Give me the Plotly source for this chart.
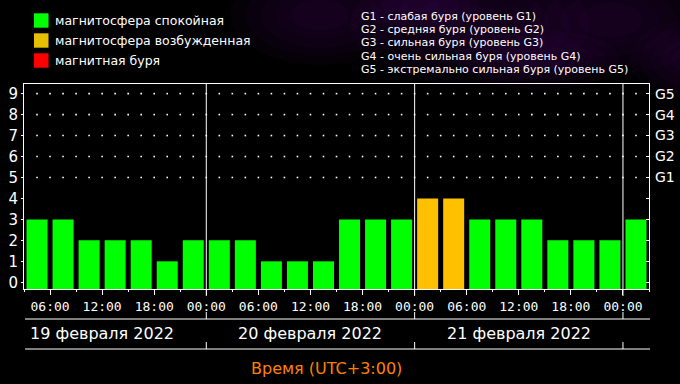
import plotly.graph_objects as go
import pandas as pd

# ---- data ----
interval_starts = pd.date_range("2022-02-19 03:00", periods=24, freq="3h")
kp_values = [3, 3, 2, 2, 2, 1, 2,
             2, 2, 1, 1, 1, 3, 3, 3,
             4, 4, 3, 3, 3, 2, 2, 2,
             3]
y_ticks = [0, 1, 2, 3, 4, 5, 6, 7, 8, 9]
g_labels = ["", "", "", "", "", "G1", "G2", "G3", "G4", "G5"]
day_labels = ["19 февраля 2022", "20 февраля 2022", "21 февраля 2022"]
day_centers = ["2022-02-19 12:00", "2022-02-20 12:00", "2022-02-21 12:00"]
day_bounds = ["2022-02-20 00:00", "2022-02-21 00:00", "2022-02-22 00:00"]
legend_names = ["магнитосфера спокойная", "магнитосфера возбужденная", "магнитная буря"]
legend_colors = ["#00FF00", "#E6C000", "#FF0000"]
g_descriptions = [
    "G1 - слабая буря (уровень G1)",
    "G2 - средняя буря (уровень G2)",
    "G3 - сильная буря (уровень G3)",
    "G4 - очень сильная буря (уровень G4)",
    "G5 - экстремально сильная буря (уровень G5)",
]

GREEN, YELLOW, RED = "#00FF00", "#FFC000", "#FF0000"
YMIN, YMAX = -0.32, 9.46
HOUR = 3600 * 1000
bar_colors = [GREEN if v < 4 else (YELLOW if v == 4 else RED) for v in kp_values]

W, H = 680, 384
L, R, T, B = 24, 31, 84, 95
PW, PH = W - L - R, H - T - B


def px_x(px):
    return (px - L) / PW


def px_y(py):
    return (H - B - py) / PH


fig = go.Figure()

bw = 2.42 * HOUR
fig.add_trace(go.Bar(
    x=interval_starts, y=[v - YMIN for v in kp_values], base=YMIN,
    width=bw, offset=(3 * HOUR - bw) / 2,
    marker=dict(color=bar_colors, line=dict(width=0)),
    hoverinfo="skip",
))

# dotted grid for levels G1..G5
dot_x, dot_y = [], []
dot_times = pd.date_range("2022-02-19 04:30", "2022-02-22 01:30", freq="90min")
for lvl in [5, 6, 7, 8, 9]:
    for t in dot_times:
        dot_x.append(t)
        dot_y.append(lvl)
fig.add_trace(go.Scatter(x=dot_x, y=dot_y, mode="markers",
                         marker=dict(symbol="square", size=1.6, color="white", line=dict(width=0)),
                         hoverinfo="skip"))

# invisible trace for right axis
fig.add_trace(go.Scatter(x=[interval_starts[0]], y=[0], yaxis="y2", mode="markers",
                         marker=dict(opacity=0), hoverinfo="skip"))

shapes = []
# soft nebula-ish glow (paper area above the plot), layered ellipses
for (cx, cy, rx, ry) in [(320, 15, 90, 50), (470, 25, 120, 60), (610, 20, 100, 55),
                         (540, 60, 80, 30), (690, 60, 60, 40), (420, 5, 60, 25)]:
    for k in range(5):
        f = 1 - k * 0.17
        shapes.append(dict(type="circle", xref="paper", yref="paper", layer="below",
                           x0=px_x(cx - rx * f), x1=px_x(cx + rx * f),
                           y0=px_y(cy + ry * f), y1=px_y(cy - ry * f),
                           fillcolor="rgba(85,20,125,0.06)", line=dict(width=0)))

for xb in day_bounds:
    shapes.append(dict(type="line", xref="x", yref="paper", x0=xb, x1=xb, y0=0, y1=1,
                       line=dict(color="white", width=1)))
    for (a, b) in [(289, 296), (312, 319), (342, 349)]:
        shapes.append(dict(type="line", xref="x", yref="paper", x0=xb, x1=xb,
                           y0=px_y(a), y1=px_y(b), line=dict(color="white", width=1)))
for yy in [319, 349]:
    shapes.append(dict(type="line", xref="paper", yref="paper", x0=px_x(25), x1=px_x(650),
                       y0=px_y(yy), y1=px_y(yy), line=dict(color="white", width=1)))

annotations = []
for i, (nm, col) in enumerate(zip(legend_names, legend_colors)):
    top = 13.3 + 20 * i
    shapes.append(dict(type="rect", xref="paper", yref="paper",
                       x0=px_x(34), x1=px_x(48.5), y0=px_y(top + 14.4), y1=px_y(top),
                       fillcolor=col, line=dict(width=0)))
    annotations.append(dict(text=nm, xref="paper", yref="paper", x=px_x(53), y=px_y(top + 7.2),
                            xanchor="left", yanchor="middle", showarrow=False,
                            font=dict(family="DejaVu Sans", size=12.5, color="white")))
for i, txt in enumerate(g_descriptions):
    annotations.append(dict(text=txt, xref="paper", yref="paper", x=px_x(359), y=px_y(16.5 + 13.2 * i),
                            xanchor="left", yanchor="middle", showarrow=False,
                            font=dict(family="DejaVu Sans", size=11, color="white")))
for lbl, c in zip(day_labels, day_centers):
    annotations.append(dict(text=lbl, xref="x", yref="paper", x=c, y=px_y(333),
                            xanchor="center", yanchor="middle", showarrow=False,
                            font=dict(family="DejaVu Sans", size=16, color="white")))
annotations.append(dict(text="Время (UTC+3:00)", xref="paper", yref="paper", x=px_x(326), y=px_y(368),
                        xanchor="center", yanchor="middle", showarrow=False,
                        font=dict(family="DejaVu Sans", size=16, color="#FF8000")))

fig.update_layout(
    width=W, height=H, margin=dict(l=L, r=R, t=T, b=B, autoexpand=False),
    paper_bgcolor="black", plot_bgcolor="black", showlegend=False,
    shapes=shapes, annotations=annotations,
    xaxis=dict(type="date", range=["2022-02-19 03:00", "2022-02-22 03:00"],
               tickformat="%H:%M", dtick=6 * HOUR, tick0="2022-02-19 00:00",
               ticks="outside", ticklen=5, tickcolor="white", tickwidth=1,
               tickfont=dict(family="DejaVu Sans Mono", size=13, color="white"),
               minor=dict(dtick=3 * HOUR, tick0="2022-02-19 00:00", ticks="outside",
                          ticklen=2, tickcolor="white", tickwidth=1),
               showgrid=False, zeroline=False, showline=True, linecolor="white",
               linewidth=1, mirror=True, fixedrange=True, automargin=False),
    yaxis=dict(range=[YMIN, YMAX], tickvals=y_ticks, ticktext=[str(v) for v in y_ticks],
               ticks="outside", ticklen=2, tickcolor="white",
               tickfont=dict(family="DejaVu Sans", size=15, color="white"),
               showgrid=False, zeroline=False, showline=True, linecolor="white",
               linewidth=1, mirror=True, automargin=False),
    yaxis2=dict(range=[YMIN, YMAX], overlaying="y", side="right", tickvals=y_ticks,
                ticktext=g_labels, ticks="inside", ticklen=3, tickcolor="white",
                tickfont=dict(family="DejaVu Sans", size=14, color="white"),
                ticklabelstandoff=5,
                showgrid=False, zeroline=False, showline=False, automargin=False),
)

fig.write_html("out.html", config={"displayModeBar": False},
               post_script="document.body.style.margin='0';document.body.style.background='black';")
